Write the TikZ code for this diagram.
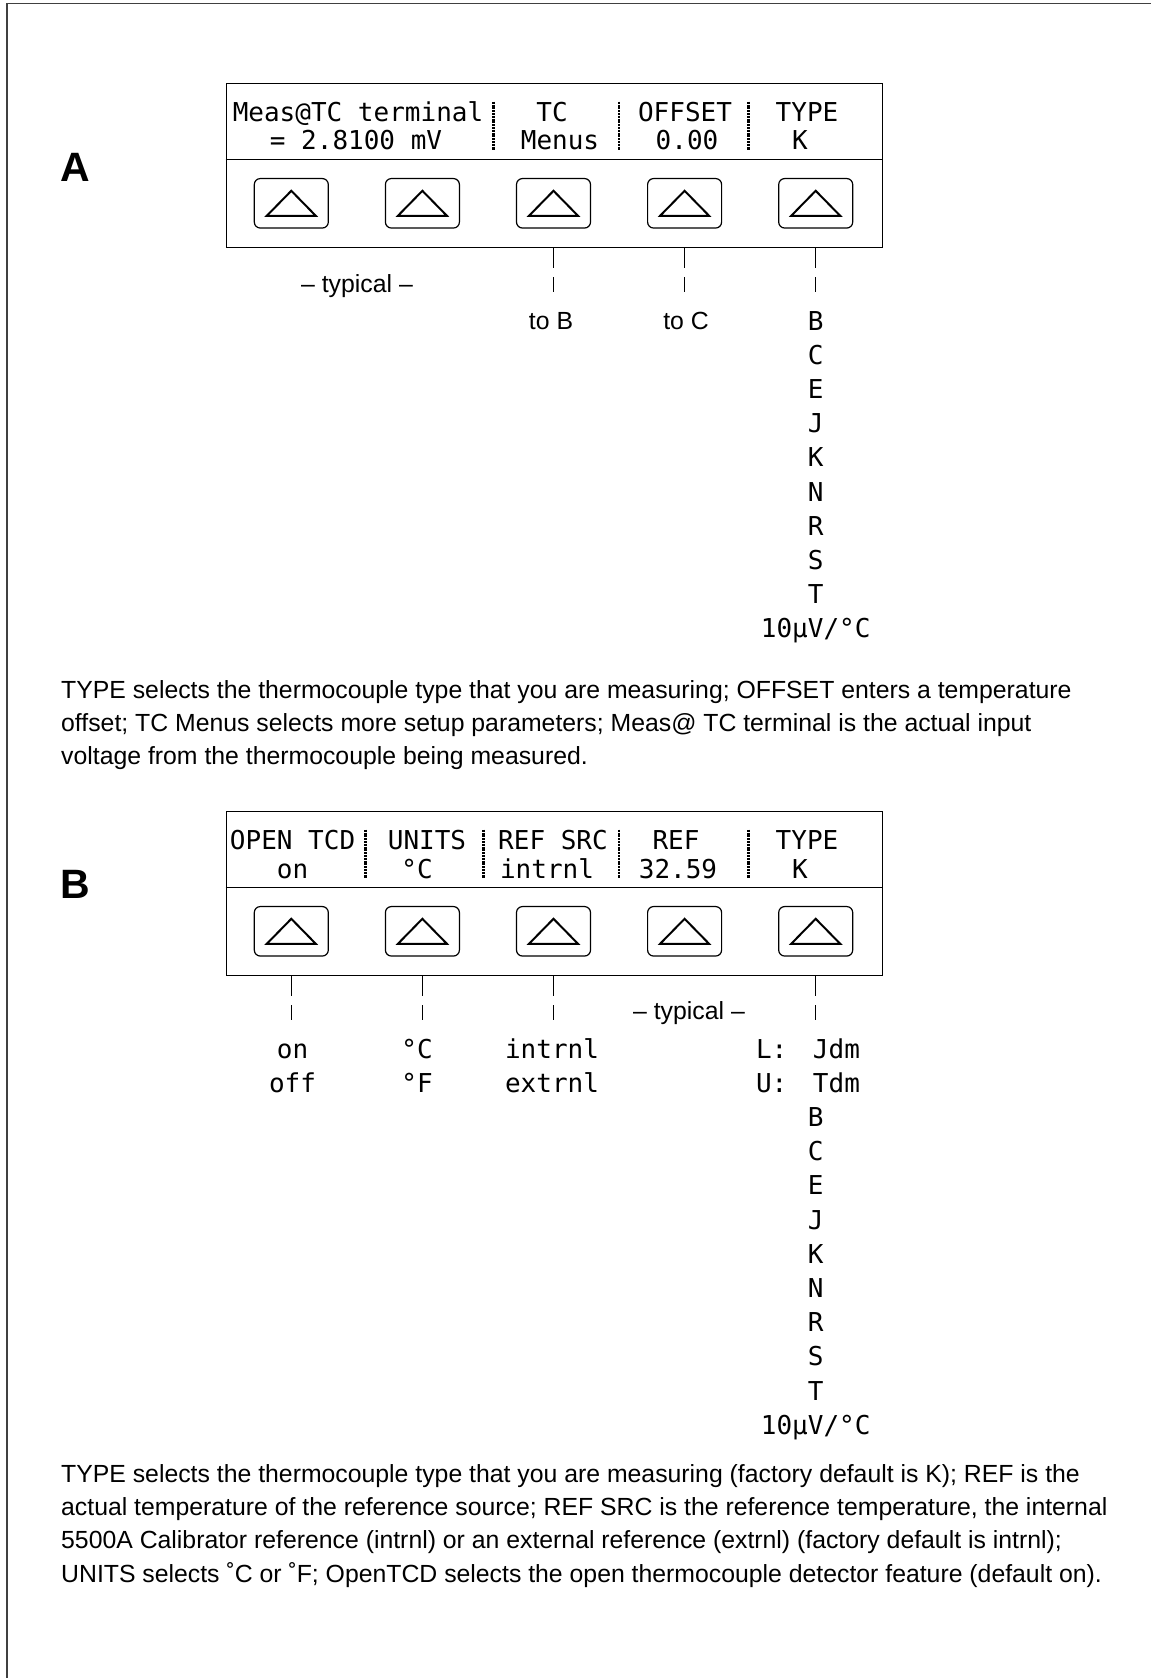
\documentclass[tikz,border=0pt]{standalone}
\usepackage{fontspec}
\setmainfont{Liberation Sans}
\newfontfamily\lcdfont{DejaVu Sans Mono}
\tikzset{
  frameline/.style={line width=1.8pt, draw=black!75},
  panelbox/.style={draw, line width=1.3pt, minimum width=656pt, minimum height=164pt, inner sep=0pt, anchor=north west},
  panelline/.style={line width=1.3pt},
  softkey/.style={draw, rounded corners=6pt, line width=1.2pt, minimum width=74pt, minimum height=49.5pt, inner sep=0pt},
  tri/.style={line width=2pt, line join=miter},
  lcd/.style={font=\lcdfont\fontsize{26}{26}\selectfont, anchor=base, inner sep=0pt},
  lcdsep/.style={line width=2.8pt, dash pattern=on 2pt off 0.8pt},
  leader/.style={line width=1pt, dash pattern=on 20pt off 9pt on 15pt off 200pt},
  body/.style={font=\fontsize{24.8}{33.3}\selectfont, anchor=base west, inner sep=0pt},
  note/.style={font=\fontsize{24.8}{30}\selectfont, anchor=base, inner sep=0pt},
  panellabel/.style={font=\bfseries\fontsize{41}{41}\selectfont, inner sep=0pt},
}
\begin{document}
\begin{tikzpicture}[x=1pt,y=-1pt]
\useasboundingbox (0,0) rectangle (1151,1678);
\draw[frameline] (6.7,1678) -- (6.7,3.5) -- (1151,3.5);

% ---------------- Panel A ----------------
\node[panellabel] (labA) at (75.5,167.5) {A};
\node[panelbox] (boxA) at (225.7,82.7) {};
\draw[panelline] (225.7,159.3) -- (881.7,159.3);
\foreach \i/\x in {1/291.3,2/422.4,3/553.5,4/684.6,5/815.7}{
  \node[softkey] (kA\i) at (\x,203.3) {};
  \draw[tri] ([shift={(-24.5,12.5)}]kA\i.center) -- ([shift={(0,-12.5)}]kA\i.center) -- ([shift={(24.5,12.5)}]kA\i.center) -- cycle;
}
\node[lcd] (a1) at (358,121.2) {Meas@TC terminal};
\node[lcd] (a2) at (552,121.2) {TC};
\node[lcd] (a3) at (685,121.2) {OFFSET};
\node[lcd] (a4) at (807,121.2) {TYPE};
\node[lcd] (a5) at (356,149.7) {= 2.8100 mV};
\node[lcd] (a6) at (560,149.7) {Menus};
\node[lcd] (a7) at (687,149.7) {0.00};
\node[lcd] (a8) at (800,149.7) {K};
\foreach \x in {493.4,619,748.5}{
  \draw[lcdsep] (\x,101.7) -- (\x,150);
}
\draw[leader] (kA3.center |- boxA.south) -- ++(0,44);
\draw[leader] (kA4.center |- boxA.south) -- ++(0,44);
\draw[leader] (kA5.center |- boxA.south) -- ++(0,44);
\node[note] (typA) at (357,292) {– typical –};
\node[note] (toB) at (551,329) {to B};
\node[note] (toC) at (686,329) {to C};
\foreach \t [count=\k from 0] in {B,C,E,J,K,N,R,S,T,10µV/°C}{
  \node[lcd] (lA\k) at (815.7,{330+34.2*\k}) {\t};
}
\node[body] (bodyA1) at (61,698) {TYPE selects the thermocouple type that you are measuring; OFFSET enters a temperature};
\node[body] (bodyA2) at (61,731.3) {offset; TC Menus selects more setup parameters; Meas@ TC terminal is the actual input};
\node[body] (bodyA3) at (61,764.6) {voltage from the thermocouple being measured.};

% ---------------- Panel B ----------------
\node[panellabel] (labB) at (75.5,884) {B};
\node[panelbox] (boxB) at (225.7,810.7) {};
\draw[panelline] (225.7,887.3) -- (881.7,887.3);
\foreach \i/\x in {1/291.3,2/422.4,3/553.5,4/684.6,5/815.7}{
  \node[softkey] (kB\i) at (\x,931.3) {};
  \draw[tri] ([shift={(-24.5,12.5)}]kB\i.center) -- ([shift={(0,-12.5)}]kB\i.center) -- ([shift={(24.5,12.5)}]kB\i.center) -- cycle;
}
\node[lcd] (b1) at (292.6,849.5) {OPEN TCD};
\node[lcd] (b2) at (427,849.5) {UNITS};
\node[lcd] (b3) at (553,849.5) {REF SRC};
\node[lcd] (b4) at (676,849.5) {REF};
\node[lcd] (b5) at (807,849.5) {TYPE};
\node[lcd] (b6) at (292.6,878) {on};
\node[lcd] (b7) at (417,878) {°C};
\node[lcd] (b8) at (547,878) {intrnl};
\node[lcd] (b9) at (678,878) {32.59};
\node[lcd] (b10) at (800,878) {K};
\foreach \x in {365.7,483.5,619,748.5}{
  \draw[lcdsep] (\x,829.7) -- (\x,878);
}
\draw[leader] (kB1.center |- boxB.south) -- ++(0,44);
\draw[leader] (kB2.center |- boxB.south) -- ++(0,44);
\draw[leader] (kB3.center |- boxB.south) -- ++(0,44);
\draw[leader] (kB5.center |- boxB.south) -- ++(0,44);
\node[note] (typB) at (689,1019.5) {– typical –};
\node[lcd] (oc1) at (292.5,1058) {on};
\node[lcd] (oc2) at (292.5,1092.2) {off};
\node[lcd] (un1) at (417,1058) {°C};
\node[lcd] (un2) at (417,1092.2) {°F};
\node[lcd] (rs1) at (552,1058) {intrnl};
\node[lcd] (rs2) at (552,1092.2) {extrnl};
\node[lcd] (lB0) at (808,1058) {L:\kern10pt\ Jdm};
\node[lcd] (lB1) at (808,1092.2) {U:\kern10pt\ Tdm};
\foreach \t [count=\k from 2] in {B,C,E,J,K,N,R,S,T,10µV/°C}{
  \node[lcd] (lB\k) at (815.7,{1058+34.2*\k}) {\t};
}
\node[body] (bodyB1) at (61,1482.3) {TYPE selects the thermocouple type that you are measuring (factory default is K); REF is the};
\node[body] (bodyB2) at (61,1515.5) {actual temperature of the reference source; REF SRC is the reference temperature, the internal};
\node[body] (bodyB3) at (61,1548.8) {5500A Calibrator reference (intrnl) or an external reference (extrnl) (factory default is intrnl);};
\node[body] (bodyB4) at (61,1582) {UNITS selects ˚C or ˚F; OpenTCD selects the open thermocouple detector feature (default on).};
\end{tikzpicture}
\end{document}
